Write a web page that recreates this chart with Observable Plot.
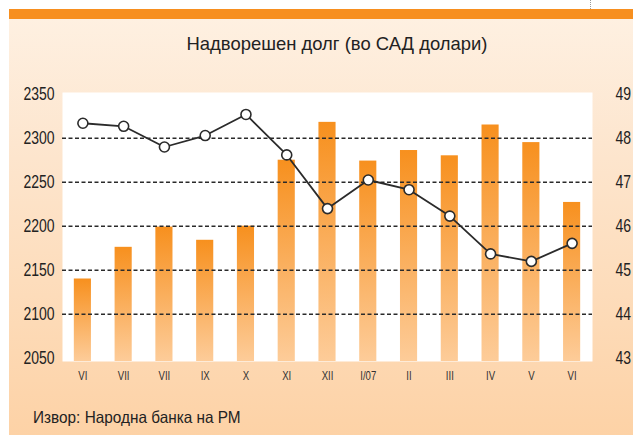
<!DOCTYPE html>
<html>
<head>
<meta charset="utf-8">
<script src="https://cdn.jsdelivr.net/npm/d3@7"></script>
<script src="https://cdn.jsdelivr.net/npm/@observablehq/plot@0.6"></script>
<style>
  html, body { margin: 0; padding: 0; background: #fff; }
  #wrap { position: relative; width: 633px; height: 435px; overflow: hidden; background: #fff; font-family: "Liberation Sans", Arial, sans-serif; }
  #band { position: absolute; left: 9px; right: 0; top: 9px; height: 10px; background: #f78f1f; }
  #panel { position: absolute; left: 9px; right: 0; top: 19px; bottom: 0; background: linear-gradient(to bottom, #fef0e1 0%, #fde6cf 30%, #fddbb8 70%, #fdd2a6 100%); }
  #dotline { position: absolute; left: 590px; top: 0; height: 9px; border-left: 1px dotted #999; }
  #title { position: absolute; left: 337px; top: 33px; white-space: nowrap; font-size: 19px; color: #222; transform: translateX(-50%) scaleX(0.97); }
  #chart { position: absolute; left: 0; top: 60px; }
  #caption { position: absolute; left: 33px; top: 408px; white-space: nowrap; font-size: 16.5px; color: #222; transform-origin: 0 0; transform: scaleX(0.93); }
</style>
</head>
<body>
<div id="wrap">
  <div id="band"></div>
  <div id="panel"></div>
  <div id="dotline"></div>
  <div id="title">Надворешен долг (во САД долари)</div>
  <div id="chart"></div>
  <div id="caption">Извор: Народна банка на РМ</div>
</div>
<script>
const months = ["VI","VII","VII","IX","X","XI","XII","I/07","II","III","IV","V","VI"];
const debt = [2140, 2176, 2199, 2184, 2200, 2275, 2318, 2274, 2286, 2280, 2315, 2295, 2227];
const rate = [48.34, 48.27, 47.80, 48.06, 48.54, 47.62, 46.40, 47.05, 46.83, 46.23, 45.37, 45.20, 45.61];
const leftTicks = [2050, 2100, 2150, 2200, 2250, 2300, 2350];
const rightTicks = [43, 44, 45, 46, 47, 48, 49];
const gridTicks = [2100, 2150, 2200, 2250, 2300];

// map right-axis values onto the left scale domain
const rMin = 43, rMax = 49, lMin = 2050, lMax = 2350;
const toLeft = v => lMin + (v - rMin) * (lMax - lMin) / (rMax - rMin);
const toRight = v => rMin + (v - lMin) * (rMax - rMin) / (lMax - lMin);

const data = months.map((m, i) => ({i, month: m, debt: debt[i], rate: rate[i]}));

const chart = Plot.plot({
  width: 633,
  height: 330,
  marginLeft: 62,
  marginRight: 41,
  marginTop: 32,
  marginBottom: 29,
  style: {background: "transparent", fontFamily: "'Liberation Sans', Arial, sans-serif", fontSize: "17px", color: "#222", overflow: "visible"},
  x: {type: "band", domain: d3.range(months.length), paddingInner: 0.58, paddingOuter: 0.29, round: false},
  y: {domain: [lMin, lMax], insetTop: 1.7, insetBottom: 3.3},
  marks: [
    Plot.frame({fill: "white", stroke: null}),
    Plot.barY(data, {x: "i", y1: lMin, y2: "debt", fill: "url(#barGrad)", insetBottom: -3.3}),
    Plot.ruleY(gridTicks, {stroke: "#2a2a2a", strokeWidth: 1.4, strokeDasharray: "4,2.5"}),
    Plot.line(data, {x: "i", y: d => toLeft(d.rate), stroke: "#2b2b2b", strokeWidth: 1.8}),
    Plot.dot(data, {x: "i", y: d => toLeft(d.rate), r: 5, fill: "white", stroke: "#2b2b2b", strokeWidth: 1.6}),
    Plot.axisY({ticks: leftTicks, tickSize: 0, tickPadding: 8, anchor: "left", label: null, fontSize: 17.5, fill: "#222",
      tickFormat: v => String(v)}),
    Plot.axisY({ticks: rightTicks.map(toLeft), tickSize: 0, tickPadding: 23, anchor: "right", label: null, textAnchor: "start", fontSize: 17.5, fill: "#222",
      tickFormat: v => String(Math.round(toRight(v)))}),
    Plot.axisX({tickSize: 0, tickPadding: 10, label: null, fontSize: 12, fill: "#333", tickFormat: i => months[i]})
  ]
});

d3.select(chart).insert("defs", ":first-child").html(
  '<linearGradient id="barGrad" x1="0" y1="0" x2="0" y2="1">' +
  '<stop offset="0%" stop-color="#f7901e"/>' +
  '<stop offset="100%" stop-color="#fdcc99"/>' +
  '</linearGradient>'
);

// condense tick labels horizontally around their anchor points
d3.select(chart).selectAll("text").each(function() {
  const el = d3.select(this);
  const x = +(el.attr("x") || 0);
  const t = el.attr("transform") || "";
  el.attr("transform", `${t} translate(${x},0) scale(0.8,1) translate(${-x},0)`);
});

document.getElementById("chart").appendChild(chart);
</script>
</body>
</html>
